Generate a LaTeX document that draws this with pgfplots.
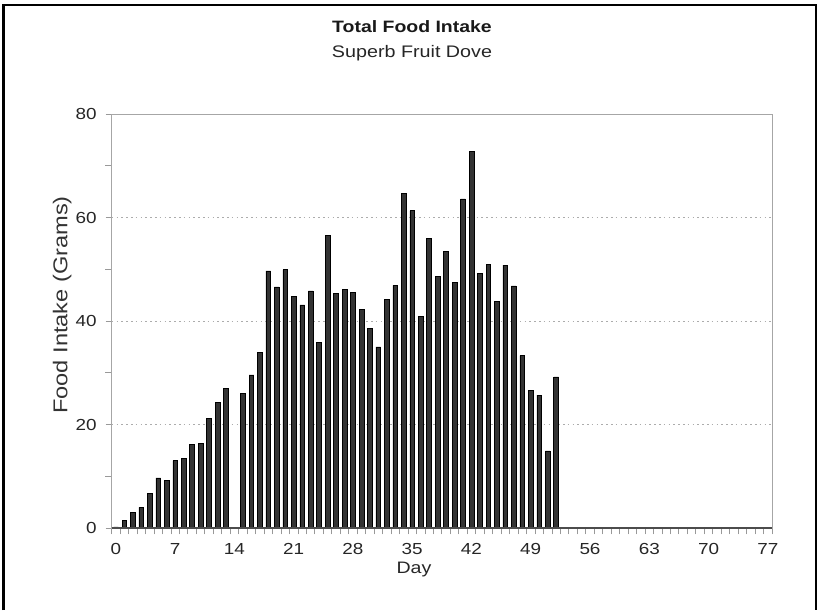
\documentclass[border=0pt]{standalone}
\usepackage{pgfplots}
\usepackage{pgfplotstable}
\pgfplotsset{compat=1.18}
\usepackage{fontspec}
\setmainfont{Liberation Sans}[FakeStretch=1.18]

\pgfplotstableread{
day val
0 0.2
1 1.4
2 3.0
3 4.0
4 6.7
5 9.7
6 9.2
7 13.0
8 13.5
9 16.2
10 16.4
11 21.2
12 24.2
13 27.0
15 26.0
16 29.6
17 34.0
18 49.7
19 46.6
20 49.9
21 44.8
22 43.1
23 45.8
24 35.9
25 56.6
26 45.4
27 46.1
28 45.6
29 42.3
30 38.6
31 35.0
32 44.2
33 46.9
34 64.7
35 61.3
36 40.9
37 56.0
38 48.6
39 53.4
40 47.4
41 63.6
42 72.8
43 49.2
44 50.9
45 43.8
46 50.8
47 46.8
48 33.3
49 26.6
50 25.7
51 14.9
52 29.2
}\foodtable

\begin{document}
\begin{tikzpicture}
\useasboundingbox (0,0) rectangle (411pt,305pt);
\draw[black, line width=1.1pt] (1.75pt,0pt) -- (1.75pt,302.5pt) -- (408pt,302.5pt) -- (408pt,0pt);

\node[anchor=base, font=\fontsize{8.24}{10}\selectfont\bfseries, text=black!90] at (206pt,288.5pt) {Total Food Intake};
\node[anchor=base, font=\fontsize{8.36}{10}\selectfont, text=black!85] at (206pt,276.3pt) {Superb Fruit Dove};

\begin{axis}[
  at={(55.85pt,41pt)}, anchor=south west,
  scale only axis, width=330.15pt, height=207pt,
  xmin=-0.5, xmax=77.5, ymin=0, ymax=80,
  xtick={0,7,...,77},
  minor xtick={-0.5,0.5,...,77.5},
  ytick={0,20,...,80},
  minor ytick={10,30,50,70},
  xtick pos=bottom, ytick pos=left,
  tick align=outside,
  major tick length=3pt, minor tick length=3.2pt,
  every major x tick/.append style={draw=none},
  tick style={gray!80, line width=0.4pt},
  axis line style={gray!70, line width=0.5pt},
  ymajorgrids,
  grid style={gray!65, line width=0.4pt, dash pattern=on 0.8pt off 1.6pt},
  /pgf/number format/assume math mode=true,
  ticklabel style={font=\fontsize{8}{9}\selectfont, text=black!85},
  xticklabel style={inner sep=0pt, anchor=north, yshift=-4.5pt},
  yticklabel style={inner sep=0pt, anchor=east, xshift=-4.3pt},
  clip=false,
]
\addplot[ybar, bar width=0.56, fill=black!80, draw=black, line width=0.3pt] table[x=day, y=val] {\foodtable};
\draw[black!70, line width=0.6pt] (axis cs:-0.5,0) -- (axis cs:77.5,0);
\end{axis}

\node[rotate=90, anchor=base, font=\fontsize{10}{12}\selectfont, text=black!80] at (33.7pt,152.5pt) {Food Intake (Grams)};
\node[anchor=base, font=\fontsize{8.3}{10}\selectfont, text=black!85] at (207pt,18.5pt) {Day};
\end{tikzpicture}
\end{document}
